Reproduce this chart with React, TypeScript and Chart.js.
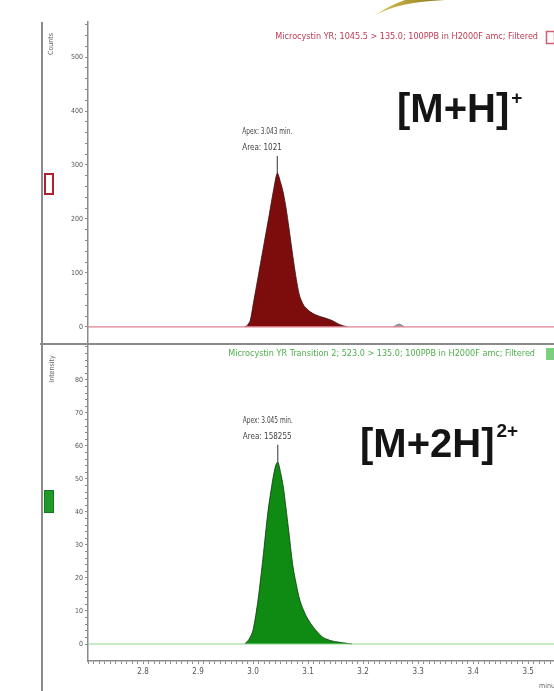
import React, { useEffect, useRef } from "react";
import { Chart, registerables } from "chart.js";

Chart.register(...registerables);

// ---------- data ----------
const timeRange = [2.7, 3.547];
const xTickLabels = ["2.8", "2.9", "3.0", "3.1", "3.2", "3.3", "3.4", "3.5"];

const topYTickLabels = ["0", "100", "200", "300", "400", "500"];
const bottomYTickLabels = ["0", "10", "20", "30", "40", "50", "60", "70", "80"];

// [M+H]+ peak (counts)
const topPeakTimes = [2.985, 2.99, 2.995, 3.0, 3.01, 3.02, 3.03, 3.037, 3.044, 3.05, 3.055, 3.06, 3.065, 3.07, 3.075, 3.08, 3.085, 3.092, 3.1, 3.11, 3.122, 3.135, 3.145, 3.158, 3.171];
const topPeakValues = [0, 3, 12, 40, 97, 154, 211, 252, 285, 268, 248, 220, 185, 148, 112, 80, 56, 40, 31, 24, 19, 15, 11, 4, 0];
const topBumpTimes = [3.255, 3.262, 3.266, 3.275];
const topBumpValues = [0, 4, 5, 0];

// [M+2H]2+ peak
const bottomPeakTimes = [2.985, 2.993, 3.0, 3.009, 3.018, 3.027, 3.036, 3.041, 3.045, 3.05, 3.055, 3.064, 3.073, 3.085, 3.095, 3.104, 3.115, 3.127, 3.142, 3.158, 3.18];
const bottomPeakValues = [0, 1.5, 4.2, 13.3, 26, 40, 50, 54, 55.2, 52, 47.6, 35.5, 23, 13.3, 9, 6.4, 4, 2, 1, 0.5, 0];

const topHeader = "Microcystin YR; 1045.5 > 135.0; 100PPB in H2000F amc; Filtered";
const bottomHeader = "Microcystin YR Transition 2; 523.0 > 135.0; 100PPB in H2000F amc; Filtered";
const topApexText = ["Apex: 3.043 min.", "Area: 1021"];
const bottomApexText = ["Apex: 3.045 min.", "Area: 158255"];
const topIon = ["[M+H]", "+"];
const bottomIon = ["[M+2H]", "2+"];
const topAxisTitle = "Counts";
const bottomAxisTitle = "Intensity";

const GREY = "#8a8a8a";
const TXT = "#555";
const NARROW = '"Liberation Sans Narrow", "DejaVu Sans Condensed", "Liberation Sans", sans-serif';

function pts(ts: number[], vs: number[]) {
  return ts.map((t, i) => ({ x: t, y: vs[i] }));
}

function range(a: number, b: number, step: number) {
  const out: number[] = [];
  const n = Math.round((b - a) / step);
  for (let i = 0; i <= n; i++) out.push(Math.round((a + i * step) * 1000) / 1000);
  return out;
}

function drawApex(chart: any, dsIndex: number, lines: string[]) {
  const ctx = chart.ctx;
  const meta = chart.getDatasetMeta(dsIndex);
  let best: any = null;
  meta.data.forEach((el: any) => {
    if (!best || el.y < best.y) best = el;
  });
  if (!best) return;
  ctx.save();
  ctx.strokeStyle = "#333";
  ctx.lineWidth = 1;
  ctx.beginPath();
  ctx.moveTo(best.x, best.y);
  ctx.lineTo(best.x, best.y - 17);
  ctx.stroke();
  ctx.fillStyle = "#444";
  ctx.font = `8px ${NARROW}`;
  ctx.textAlign = "left";
  ctx.textBaseline = "middle";
  ctx.fillText(lines[0], best.x - 35, best.y - 41, 50);
  ctx.fillText(lines[1], best.x - 35, best.y - 25, 50);
  ctx.restore();
}

function drawIon(ctx: CanvasRenderingContext2D, main: string, sup: string, x: number, y: number, supY: number) {
  ctx.save();
  ctx.fillStyle = "#141414";
  ctx.font = 'bold 40px "Liberation Sans", Arial, sans-serif';
  ctx.textAlign = "left";
  ctx.textBaseline = "alphabetic";
  ctx.fillText(main, x, y);
  const w = ctx.measureText(main).width;
  ctx.font = 'bold 19px "Liberation Sans", Arial, sans-serif';
  ctx.fillText(sup, x + w + 2, supY);
  ctx.restore();
}

const topPlugin = {
  id: "topExtras",
  afterDraw(chart: any) {
    const ctx = chart.ctx as CanvasRenderingContext2D;
    const { top, bottom } = chart.chartArea;
    ctx.save();
    // outer frame line
    ctx.strokeStyle = GREY;
    ctx.lineWidth = 2;
    ctx.beginPath();
    ctx.moveTo(42, top);
    ctx.lineTo(42, bottom);
    ctx.stroke();
    // golden swoosh fragment
    const g = ctx.createLinearGradient(380, 14, 440, 0);
    g.addColorStop(0, "#d8c050");
    g.addColorStop(1, "#8a7a20");
    ctx.fillStyle = g;
    ctx.beginPath();
    ctx.moveTo(376, 15);
    ctx.quadraticCurveTo(398, 2, 445, 0);
    ctx.lineTo(405, 0);
    ctx.quadraticCurveTo(388, 6, 376, 15);
    ctx.fill();
    // header
    ctx.fillStyle = "#c23a52";
    ctx.font = `9px ${NARROW}`;
    ctx.textAlign = "right";
    ctx.textBaseline = "middle";
    ctx.fillText(topHeader, 538, 37, 271);
    ctx.strokeStyle = "#d06070";
    ctx.lineWidth = 1.5;
    ctx.strokeRect(546.5, 31.5, 8, 12);
    // axis title
    ctx.save();
    ctx.translate(51, 44);
    ctx.rotate(-Math.PI / 2);
    ctx.fillStyle = "#666";
    ctx.font = `7px ${NARROW}`;
    ctx.textAlign = "center";
    ctx.textBaseline = "middle";
    ctx.fillText(topAxisTitle, 0, 0);
    ctx.restore();
    // marker box
    ctx.fillStyle = "#fff";
    ctx.fillRect(45, 174, 8, 20);
    ctx.strokeStyle = "#b02030";
    ctx.lineWidth = 2;
    ctx.strokeRect(45, 174, 8, 20);
    ctx.restore();
    drawApex(chart, 1, topApexText);
    drawIon(ctx, topIon[0], topIon[1], 397, 122, 104);
  },
};

const bottomPlugin = {
  id: "bottomExtras",
  afterDraw(chart: any) {
    const ctx = chart.ctx as CanvasRenderingContext2D;
    ctx.save();
    ctx.strokeStyle = GREY;
    ctx.lineWidth = 2;
    ctx.beginPath();
    ctx.moveTo(42, 0);
    ctx.lineTo(42, chart.height);
    ctx.stroke();
    ctx.beginPath();
    ctx.moveTo(40, 1);
    ctx.lineTo(554, 1);
    ctx.stroke();
    // header
    ctx.fillStyle = "#4cb04c";
    ctx.font = `9px ${NARROW}`;
    ctx.textAlign = "right";
    ctx.textBaseline = "middle";
    ctx.fillText(bottomHeader, 535, 11, 313);
    ctx.fillStyle = "#7cd07c";
    ctx.fillRect(546, 5, 8, 12);
    // axis title
    ctx.save();
    ctx.translate(52, 26);
    ctx.rotate(-Math.PI / 2);
    ctx.fillStyle = "#666";
    ctx.font = `7px ${NARROW}`;
    ctx.textAlign = "center";
    ctx.textBaseline = "middle";
    ctx.fillText(bottomAxisTitle, 0, 0);
    ctx.restore();
    // marker box
    ctx.fillStyle = "#1f9a2a";
    ctx.fillRect(44, 147, 10, 23);
    ctx.strokeStyle = "#137a1c";
    ctx.lineWidth = 1;
    ctx.strokeRect(44.5, 147.5, 9, 22);
    // minutes
    ctx.fillStyle = "#666";
    ctx.font = `7px ${NARROW}`;
    ctx.textAlign = "left";
    ctx.textBaseline = "middle";
    ctx.fillText("minutes", 539, 343);
    ctx.restore();
    drawApex(chart, 1, bottomApexText);
    drawIon(ctx, bottomIon[0], bottomIon[1], 360, 114, 94);
  },
};

function yScale(min: number, max: number, step: number, labels: string[]) {
  return {
    type: "linear",
    min,
    max,
    afterFit: (s: any) => {
      s.width = 88;
      s.paddingTop = 0;
      s.paddingBottom = 0;
    },
    afterBuildTicks: (s: any) => {
      s.ticks = range(0, Math.floor(max / step) * step, step).map((v) => ({ value: v }));
    },
    ticks: {
      autoSkip: false,
      padding: 2,
      color: TXT,
      font: { size: 7, family: NARROW },
      callback: (v: number) => (labels.includes(String(v)) ? String(v) : ""),
    },
    grid: { drawOnChartArea: false, drawTicks: true, tickLength: 3, color: GREY, lineWidth: 1 },
    border: { display: true, color: GREY, width: 1.5 },
  };
}

export default function App() {
  const topRef = useRef<HTMLCanvasElement>(null);
  const botRef = useRef<HTMLCanvasElement>(null);

  useEffect(() => {
    const common: any = {
      responsive: false,
      animation: false,
      maintainAspectRatio: false,
      plugins: { legend: { display: false }, tooltip: { enabled: false } },
      elements: { point: { radius: 0 } },
    };

    const top = new Chart(topRef.current!, {
      type: "line",
      data: {
        datasets: [
          {
            data: pts([timeRange[0], timeRange[1]], [0, 0]),
            borderColor: "#e08090",
            borderWidth: 1.2,
            fill: false,
          },
          {
            data: pts(topPeakTimes, topPeakValues),
            borderColor: "#3a1010",
            borderWidth: 0.8,
            backgroundColor: "#7d0d0d",
            fill: "origin",
            tension: 0.25,
          },
          {
            data: pts(topBumpTimes, topBumpValues),
            borderColor: "#777",
            borderWidth: 0.8,
            backgroundColor: "#999",
            fill: "origin",
            tension: 0.3,
          },
        ],
      },
      options: {
        ...common,
        layout: { padding: { top: 22, left: 0, right: 0, bottom: 0 } },
        scales: {
          x: { type: "linear", min: timeRange[0], max: timeRange[1], display: false },
          y: yScale(-30, 565, 20, topYTickLabels),
        },
      } as any,
      plugins: [topPlugin],
    });

    const bot = new Chart(botRef.current!, {
      type: "line",
      data: {
        datasets: [
          {
            data: pts([timeRange[0], timeRange[1]], [0, 0]),
            borderColor: "#8ed88e",
            borderWidth: 1.2,
            fill: false,
          },
          {
            data: pts(bottomPeakTimes, bottomPeakValues),
            borderColor: "#0b3a0b",
            borderWidth: 0.8,
            backgroundColor: "#0f8a12",
            fill: "origin",
            tension: 0.25,
          },
        ],
      },
      options: {
        ...common,
        layout: { padding: { top: 1, left: 0, right: 0, bottom: 0 } },
        scales: {
          x: {
            type: "linear",
            min: timeRange[0],
            max: timeRange[1],
            afterFit: (s: any) => {
              s.height = 30;
              s.paddingLeft = 0;
              s.paddingRight = 0;
            },
            afterBuildTicks: (s: any) => {
              s.ticks = range(2.7, 3.54, 0.01).map((v) => ({ value: v }));
            },
            ticks: {
              autoSkip: false,
              maxRotation: 0,
              padding: 3,
              color: TXT,
              font: { size: 8, family: NARROW },
              callback: (v: number) => {
                const s = v.toFixed(1);
                return Math.abs(v * 10 - Math.round(v * 10)) < 1e-6 && xTickLabels.includes(s) ? s : "";
              },
            },
            grid: { drawOnChartArea: false, drawTicks: true, tickLength: 3, color: GREY, lineWidth: 1 },
            border: { display: true, color: GREY, width: 1.5 },
          },
          y: yScale(-5.15, 90.9, 2, bottomYTickLabels),
        },
      } as any,
      plugins: [bottomPlugin],
    });

    return () => {
      top.destroy();
      bot.destroy();
    };
  }, []);

  return (
    <div style={{ position: "absolute", left: 0, top: 0, width: 554, height: 691, background: "#fff", overflow: "hidden" }}>
      <canvas ref={topRef} width={554} height={343} style={{ position: "absolute", left: 0, top: 0, display: "block" }} />
      <canvas ref={botRef} width={554} height={348} style={{ position: "absolute", left: 0, top: 343, display: "block" }} />
    </div>
  );
}
